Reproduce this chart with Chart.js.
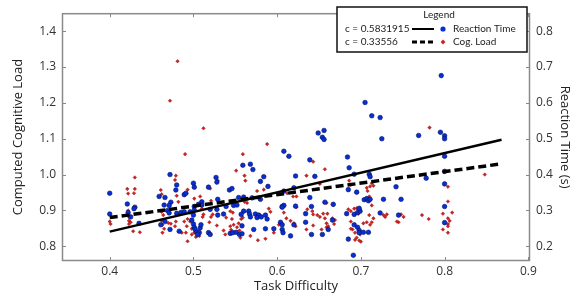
<!DOCTYPE html>
<html>
<head>
<meta charset="utf-8">
<script src="https://cdn.jsdelivr.net/npm/chart.js@4.4.1/dist/chart.umd.min.js"></script>
<style>
  html, body { margin: 0; padding: 0; background: #fff; }
  #chart { display: block; }
</style>
</head>
<body>
<canvas id="chart" width="571" height="299"></canvas>
<script>
// task difficulty vs reaction time (s), right axis
const rtX = [0.400, 0.400, 0.421, 0.430, 0.429, 0.422, 0.425, 0.435, 0.472, 0.459, 0.466, 0.473, 0.471, 0.479, 0.480, 0.489, 0.491, 0.500, 0.501, 0.465,
  0.469, 0.471, 0.480, 0.485, 0.489, 0.461, 0.466, 0.472, 0.483, 0.500, 0.498, 0.518, 0.527, 0.528, 0.584, 0.580, 0.543, 0.546, 0.589, 0.510,
  0.506, 0.529, 0.501, 0.510, 0.554, 0.560, 0.570, 0.580, 0.539, 0.548, 0.552, 0.501, 0.496, 0.520, 0.528, 0.529, 0.536, 0.560, 0.557, 0.566,
  0.567, 0.568, 0.574, 0.578, 0.576, 0.581, 0.586, 0.588, 0.558, 0.500, 0.501, 0.502, 0.504, 0.508, 0.509, 0.507, 0.505, 0.518, 0.520, 0.544,
  0.547, 0.551, 0.555, 0.558, 0.572, 0.586, 0.596, 0.606, 0.607, 0.606, 0.604, 0.606, 0.622, 0.645, 0.710, 0.711, 0.608, 0.620, 0.639, 0.685,
  0.695, 0.704, 0.707, 0.709, 0.711, 0.608, 0.606, 0.622, 0.641, 0.657, 0.667, 0.634, 0.683, 0.692, 0.696, 0.699, 0.698, 0.634, 0.620, 0.666,
  0.661, 0.654, 0.641, 0.616, 0.692, 0.696, 0.698, 0.698, 0.703, 0.709, 0.685, 0.691, 0.684, 0.686, 0.742, 0.778, 0.800, 0.800, 0.800, 0.800,
  0.800, 0.727, 0.723, 0.748, 0.745, 0.692, 0.796, 0.705, 0.713, 0.723, 0.725, 0.769, 0.795, 0.800, 0.800, 0.649, 0.656, 0.654, 0.656, 0.608,
  0.614, 0.639, 0.559, 0.568, 0.571];
const rtY = [0.348, 0.290, 0.318, 0.309, 0.305, 0.294, 0.282, 0.264, 0.400, 0.339, 0.336, 0.323, 0.314, 0.357, 0.371, 0.344, 0.348, 0.376, 0.365, 0.315,
  0.300, 0.293, 0.292, 0.294, 0.296, 0.260, 0.269, 0.247, 0.242, 0.287, 0.273, 0.365, 0.392, 0.379, 0.394, 0.381, 0.357, 0.361, 0.367, 0.324,
  0.317, 0.331, 0.311, 0.315, 0.336, 0.337, 0.335, 0.331, 0.311, 0.314, 0.315, 0.301, 0.296, 0.303, 0.303, 0.287, 0.290, 0.298, 0.289, 0.298,
  0.290, 0.282, 0.290, 0.287, 0.280, 0.282, 0.287, 0.276, 0.257, 0.262, 0.253, 0.247, 0.240, 0.251, 0.260, 0.238, 0.233, 0.238, 0.233, 0.236,
  0.238, 0.239, 0.233, 0.235, 0.247, 0.249, 0.249, 0.247, 0.238, 0.311, 0.267, 0.260, 0.396, 0.395, 0.401, 0.394, 0.354, 0.363, 0.336, 0.358,
  0.351, 0.330, 0.333, 0.327, 0.331, 0.314, 0.309, 0.312, 0.311, 0.323, 0.317, 0.291, 0.291, 0.289, 0.294, 0.298, 0.306, 0.267, 0.260, 0.273,
  0.247, 0.233, 0.233, 0.229, 0.260, 0.253, 0.244, 0.238, 0.239, 0.239, 0.220, 0.175, 0.449, 0.419, 0.366, 0.390, 0.451, 0.409, 0.374, 0.311,
  0.266, 0.331, 0.293, 0.331, 0.287, 0.401, 0.676, 0.601, 0.564, 0.559, 0.500, 0.509, 0.518, 0.508, 0.500, 0.516, 0.523, 0.504, 0.498, 0.465,
  0.451, 0.441, 0.426, 0.429, 0.414];

// task difficulty vs computed cognitive load, left axis
const clX = [0.481, 0.472, 0.512, 0.588, 0.490, 0.559, 0.782, 0.643, 0.657, 0.635, 0.551, 0.561, 0.479, 0.478, 0.430, 0.848, 0.421, 0.422, 0.430, 0.429,
  0.422, 0.423, 0.423, 0.425, 0.423, 0.400, 0.401, 0.428, 0.436, 0.461, 0.462, 0.493, 0.480, 0.482, 0.462, 0.464, 0.462, 0.463, 0.465, 0.463,
  0.470, 0.473, 0.479, 0.478, 0.489, 0.493, 0.492, 0.491, 0.493, 0.498, 0.486, 0.529, 0.562, 0.520, 0.576, 0.584, 0.501, 0.508, 0.521, 0.561,
  0.564, 0.510, 0.512, 0.511, 0.523, 0.521, 0.544, 0.547, 0.559, 0.557, 0.539, 0.546, 0.548, 0.544, 0.552, 0.554, 0.558, 0.555, 0.496, 0.498,
  0.501, 0.503, 0.507, 0.519, 0.528, 0.536, 0.545, 0.538, 0.556, 0.577, 0.586, 0.568, 0.596, 0.604, 0.602, 0.590, 0.592, 0.651, 0.612, 0.619,
  0.623, 0.686, 0.688, 0.713, 0.707, 0.711, 0.708, 0.710, 0.713, 0.623, 0.636, 0.608, 0.611, 0.616, 0.642, 0.643, 0.648, 0.651, 0.655, 0.660,
  0.659, 0.667, 0.620, 0.622, 0.635, 0.643, 0.659, 0.661, 0.668, 0.669, 0.666, 0.688, 0.692, 0.695, 0.699, 0.697, 0.685, 0.690, 0.693, 0.699,
  0.700, 0.695, 0.703, 0.711, 0.707, 0.710, 0.715, 0.715, 0.804, 0.804, 0.727, 0.729, 0.731, 0.748, 0.751, 0.745, 0.713, 0.773, 0.781, 0.798,
  0.809, 0.804, 0.806, 0.804, 0.804, 0.798, 0.804, 0.743, 0.657, 0.659, 0.653, 0.688, 0.688, 0.698, 0.693];
const clY = [1.316, 1.206, 1.129, 1.085, 1.057, 1.057, 1.131, 1.036, 1.015, 0.997, 1.011, 0.997, 0.997, 0.985, 0.992, 1.000, 0.960, 0.947, 0.960, 0.948,
  0.900, 0.882, 0.871, 0.867, 0.862, 0.869, 0.862, 0.842, 0.839, 0.957, 0.945, 0.958, 0.941, 0.924, 0.896, 0.887, 0.871, 0.860, 0.849, 0.838,
  0.865, 0.863, 0.869, 0.856, 0.869, 0.876, 0.856, 0.838, 0.814, 0.833, 0.838, 0.983, 0.983, 0.961, 0.954, 0.958, 0.933, 0.939, 0.927, 0.924,
  0.921, 0.905, 0.889, 0.882, 0.889, 0.882, 0.898, 0.894, 0.880, 0.876, 0.880, 0.876, 0.860, 0.856, 0.853, 0.864, 0.856, 0.844, 0.869, 0.849,
  0.838, 0.826, 0.829, 0.867, 0.858, 0.844, 0.846, 0.833, 0.824, 0.817, 0.821, 0.829, 0.838, 0.864, 0.860, 0.905, 0.896, 0.974, 0.948, 0.939,
  0.939, 0.983, 0.972, 0.976, 0.963, 0.967, 0.954, 0.939, 0.914, 0.909, 0.903, 0.894, 0.878, 0.871, 0.898, 0.889, 0.887, 0.882, 0.891, 0.891,
  0.921, 0.915, 0.864, 0.856, 0.847, 0.858, 0.864, 0.856, 0.862, 0.873, 0.878, 0.898, 0.905, 0.906, 0.900, 0.891, 0.903, 0.847, 0.838, 0.833,
  0.813, 0.824, 0.864, 0.860, 0.867, 0.887, 0.878, 0.969, 0.925, 0.966, 0.887, 0.882, 0.889, 0.889, 0.882, 0.867, 0.867, 0.887, 0.876, 0.891,
  0.894, 0.878, 0.871, 0.862, 0.856, 0.847, 0.838, 0.869, 0.878, 0.853, 0.847, 0.869, 0.849, 0.816, 0.818];

// fitted lines (end points)
const rtFitX = [0.400, 0.868];
const rtFitY = [0.241, 0.497];
const clFitX = [0.400, 0.868];
const clFitY = [0.880, 1.030];

const xTicks = [0.4, 0.5, 0.6, 0.7, 0.8, 0.9];
const leftTicks = [0.8, 0.9, 1.0, 1.1, 1.2, 1.3, 1.4];
const rightTicks = [0.2, 0.3, 0.4, 0.5, 0.6, 0.7, 0.8];

const legendTitle = 'Legend';
const legendRows = [
  { coef: 'c = 0.5831915', label: 'Reaction Time', dash: [], marker: 'circle' },
  { coef: 'c = 0.33556', label: 'Cog. Load', dash: [5, 3], marker: 'diamond' },
];

const FONT = '"Open Sans", "DejaVu Sans", sans-serif';
const LEGEND_FONT = 'Lato, "Open Sans", sans-serif';
const BLUE = '#0a2ed6';
const RED = '#d02020';

const toPoints = (xs, ys) => xs.map((x, i) => ({ x, y: ys[i] }));
const fixTicks = (list) => (scale) => { scale.ticks = list.map((v) => ({ value: v })); };

const frame = {
  id: 'frame',
  afterDatasetsDraw(chart) {
    const { ctx, chartArea: a, scales } = chart;
    ctx.save();
    ctx.strokeStyle = '#8a8a8a';
    ctx.lineWidth = 1;
    ctx.beginPath();
    xTicks.forEach((v) => {
      const x = Math.round(scales.x.getPixelForValue(v)) + 0.5;
      ctx.moveTo(x, a.bottom); ctx.lineTo(x, a.bottom - 4);
      ctx.moveTo(x, a.top); ctx.lineTo(x, a.top + 4);
    });
    leftTicks.forEach((v) => {
      const y = Math.round(scales.yL.getPixelForValue(v)) + 0.5;
      ctx.moveTo(a.left, y); ctx.lineTo(a.left + 4, y);
    });
    rightTicks.forEach((v) => {
      const y = Math.round(scales.yR.getPixelForValue(v)) + 0.5;
      ctx.moveTo(a.right, y); ctx.lineTo(a.right - 4, y);
    });
    ctx.stroke();
    ctx.lineWidth = 1.5;
    ctx.strokeRect(a.left + 0.5, a.top + 0.5, a.right - a.left - 1, a.bottom - a.top - 1);

    // legend box
    const bx = 337, by = 7, bw = 190, bh = 45;
    ctx.fillStyle = '#fff';
    ctx.fillRect(bx, by, bw, bh);
    ctx.strokeStyle = '#111';
    ctx.lineWidth = 1.5;
    ctx.strokeRect(bx, by, bw, bh);
    ctx.fillStyle = '#222';
    ctx.font = `10px ${LEGEND_FONT}`;
    ctx.textBaseline = 'middle';
    ctx.textAlign = 'center';
    ctx.fillText(legendTitle, 439, 15);
    ctx.textAlign = 'left';
    legendRows.forEach((row, i) => {
      const y = 29 + i * 13;
      ctx.fillStyle = '#222';
      ctx.fillText(row.coef, 345, y);
      ctx.fillText(row.label, 453, y);
      ctx.strokeStyle = '#000';
      ctx.lineWidth = row.dash.length ? 3 : 2;
      ctx.setLineDash(row.dash);
      ctx.beginPath();
      ctx.moveTo(412, y); ctx.lineTo(434, y);
      ctx.stroke();
      ctx.setLineDash([]);
      ctx.beginPath();
      if (row.marker === 'circle') {
        ctx.fillStyle = BLUE;
        ctx.arc(443, y, 2.6, 0, Math.PI * 2);
      } else {
        ctx.fillStyle = RED;
        ctx.moveTo(443, y - 2.4); ctx.lineTo(445.4, y); ctx.lineTo(443, y + 2.4); ctx.lineTo(440.6, y);
        ctx.closePath();
      }
      ctx.fill();
    });
    ctx.restore();
  },
};

const ctx = document.getElementById('chart');
new Chart(ctx, {
  type: 'scatter',
  data: {
    datasets: [
      { label: 'Reaction Time fit', type: 'line', data: toPoints(rtFitX, rtFitY), yAxisID: 'yR', borderColor: '#000', borderWidth: 2.5, pointRadius: 0, fill: false, order: 0 },
      { label: 'Cog. Load fit', type: 'line', data: toPoints(clFitX, clFitY), yAxisID: 'yL', borderColor: '#000', borderWidth: 3.5, borderDash: [8, 4], pointRadius: 0, fill: false, order: 0 },
      { label: 'Reaction Time', data: toPoints(rtX, rtY), yAxisID: 'yR', pointStyle: 'circle', pointRadius: 2.3, backgroundColor: BLUE, borderColor: '#001060', borderWidth: 0.6, order: 1 },
      { label: 'Cog. Load', data: toPoints(clX, clY), yAxisID: 'yL', pointStyle: 'rectRot', pointRadius: 1.8, backgroundColor: RED, borderColor: '#8a1010', borderWidth: 0.4, order: 2 },
    ],
  },
  options: {
    responsive: false,
    animation: false,
    events: [],
    layout: { padding: { top: 3, left: 0, right: 0, bottom: 0 } },
    plugins: { legend: { display: false }, tooltip: { enabled: false } },
    scales: {
      x: {
        type: 'linear', min: 0.343, max: 0.902,
        afterBuildTicks: fixTicks(xTicks),
        afterFit: (s) => { s.height = 38; },
        grid: { display: false, drawTicks: false },
        border: { display: false },
        ticks: { padding: 3, color: '#333', font: { family: FONT, size: 12 }, callback: (v) => v.toFixed(1) },
        title: { display: true, text: 'Task Difficulty', color: '#222', font: { family: FONT, size: 13 }, padding: { top: 0, bottom: 5 } },
      },
      yL: {
        type: 'linear', position: 'left', min: 0.759, max: 1.45,
        afterBuildTicks: fixTicks(leftTicks),
        afterFit: (s) => { s.width = 62; },
        grid: { display: false, drawTicks: false },
        border: { display: false },
        ticks: { padding: 6, color: '#333', font: { family: FONT, size: 12 }, callback: (v) => v.toFixed(1) },
        title: { display: true, text: 'Computed Cognitive Load', color: '#222', font: { family: FONT, size: 13 }, padding: { top: 10, bottom: 0 } },
      },
      yR: {
        type: 'linear', position: 'right', min: 0.159, max: 0.85,
        afterBuildTicks: fixTicks(rightTicks),
        afterFit: (s) => { s.width = 41; },
        grid: { display: false, drawTicks: false },
        border: { display: false },
        ticks: { padding: 6, color: '#333', font: { family: FONT, size: 12 }, callback: (v) => v.toFixed(1) },
        title: { display: true, text: 'Reaction Time (s)', color: '#222', font: { family: FONT, size: 13, lineHeight: 1 }, padding: { top: 0, bottom: 0 } },
      },
    },
  },
  plugins: [frame],
});
</script>
</body>
</html>
